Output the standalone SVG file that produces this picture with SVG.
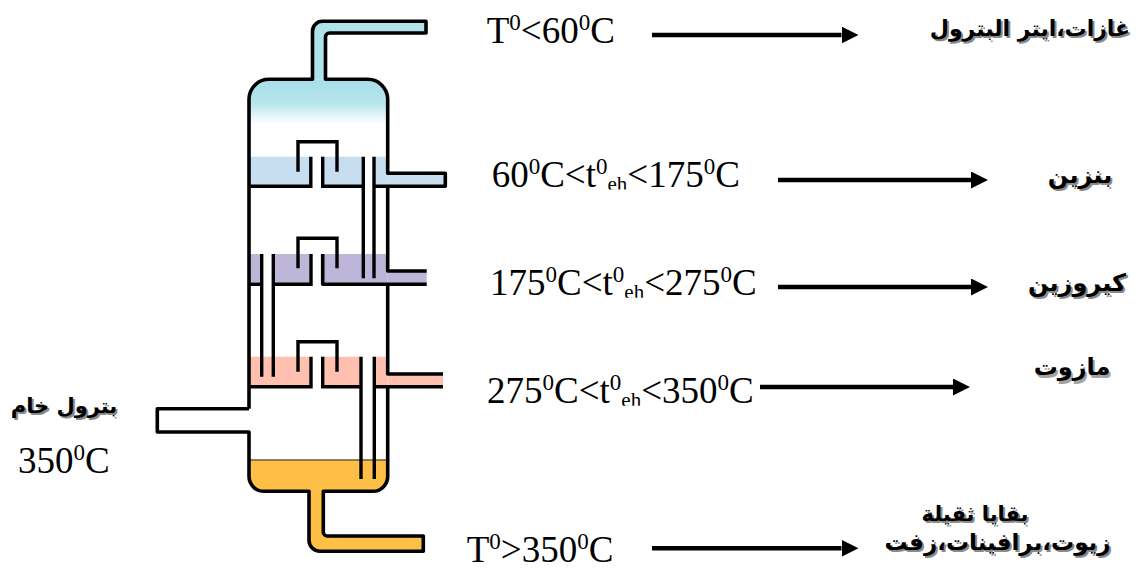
<svg xmlns="http://www.w3.org/2000/svg" width="1138" height="569" viewBox="0 0 1138 569">
  <style>
    .wall { fill: none; stroke: #000; stroke-width: 3.6; stroke-linejoin: round; }
    .inner { fill: none; stroke: #000; stroke-width: 3.4; }
    .blue { fill: #C7DDF0; }
    .violet { fill: #BDB6D8; }
    .pink { fill: #FFC0B0; }
    .oil { fill: #FFBE46; }
    .num { font-family: "Liberation Serif", "Times New Roman", serif; font-size: 37px; fill: #000; }
    .sup { font-size: 23px; }
    .sub { font-size: 21px; }
    .ar { font-family: "DejaVu Sans", "Noto Sans", sans-serif; font-weight: bold; font-size: 24px; text-anchor: middle; }
    .s21 { font-size: 21px; }
    .s22 { font-size: 22px; }
    .s23 { font-size: 23px; }
    .shadow { fill: #8a8a8a; }
    .ink { fill: #000; }
    .arrow { stroke: #000; stroke-width: 4.5; fill: none; }
  </style>
  <defs>
    <linearGradient id="vapour" x1="0" y1="79" x2="0" y2="124" gradientUnits="userSpaceOnUse">
      <stop offset="0" stop-color="#A5DEE8"/>
      <stop offset="0.55" stop-color="#B8E6ED"/>
      <stop offset="1" stop-color="#FFFFFF"/>
    </linearGradient>
    <marker id="head" viewBox="0 0 17 17" refX="0" refY="8.5" markerWidth="17" markerHeight="17" markerUnits="userSpaceOnUse" orient="auto">
      <path d="M0,0 L17,8.5 L0,17 Z" fill="#000"/>
    </marker>
    <clipPath id="cut2"><rect x="480" y="140" width="300" height="49.5"/></clipPath>
    <clipPath id="cut3"><rect x="480" y="250" width="300" height="47.8"/></clipPath>
    <clipPath id="cut4"><rect x="470" y="355" width="300" height="50.8"/></clipPath>
  </defs>

  <rect width="1138" height="569" fill="#fff"/>

  <!-- distillation column -->
  <g id="column">
    <!-- vapour in the dome and the overhead pipe -->
    <path d="M312.5,79.3 L312.5,31.3 A10,10 0 0 1 322.5,21.3 L426,21.3 L426,33 L329.5,33 A4,4 0 0 0 325.5,37 L325.5,79.3 Z" fill="#B0E2EA"/>
    <path d="M249,99.3 A20,20 0 0 1 269,79.3 L367.7,79.3 A20,20 0 0 1 387.7,99.3 L387.7,126 L249,126 Z" fill="url(#vapour)"/>

    <!-- tray 1 -->
    <rect class="blue" x="249" y="156.7" width="61.8" height="29.6"/>
    <rect class="blue" x="322.7" y="156.7" width="40.6" height="29.6"/>
    <rect class="blue" x="374" y="156.7" width="13.7" height="29.6"/>
    <rect class="blue" x="387.7" y="173.3" width="57.6" height="13"/>
    <!-- tray 2 -->
    <rect class="violet" x="249" y="254" width="12.7" height="30.3"/>
    <rect class="violet" x="273.3" y="254" width="37.7" height="30.3"/>
    <rect class="violet" x="322.7" y="254" width="65" height="30.3"/>
    <rect class="violet" x="387.7" y="271" width="39" height="13.3"/>
    <!-- tray 3 -->
    <rect class="pink" x="249" y="356.7" width="62" height="30"/>
    <rect class="pink" x="322.7" y="356.7" width="38.3" height="30"/>
    <rect class="pink" x="374.3" y="356.7" width="13.4" height="30"/>
    <rect class="pink" x="387.7" y="374" width="55.3" height="12.7"/>

    <!-- residue at the bottom and the bottom pipe -->
    <path class="oil" d="M249,460 L387.7,460 L387.7,476.3 A15,15 0 0 1 372.7,491.3 L323.3,491.3 L323.3,532 A4,4 0 0 0 327.3,536 L423.3,536 L423.3,551.3 L320,551.3 A11,11 0 0 1 309,540.3 L309,491.3 L264,491.3 A15,15 0 0 1 249,476.3 Z"/>
    <line x1="249" y1="460" x2="387.7" y2="460" stroke="#6B5A3E" stroke-width="1.6"/>

    <!-- shell, dome and pipes -->
    <path class="wall" d="M249,408.7 L249,99.3 A20,20 0 0 1 269,79.3 L312.5,79.3 L312.5,31.3 A10,10 0 0 1 322.5,21.3 L426,21.3 L426,33 L329.5,33 A4,4 0 0 0 325.5,37 L325.5,79.3 L367.7,79.3 A20,20 0 0 1 387.7,99.3 L387.7,173.3 L445.3,173.3 L445.3,186.3 L374,186.3"/>
    <path class="wall" d="M387.7,186.3 L387.7,271 L426.7,271"/>
    <path class="wall" d="M426.7,284.3 L322.7,284.3 L322.7,254"/>
    <path class="wall" d="M387.7,284.3 L387.7,374 L443,374"/>
    <path class="wall" d="M443,386.7 L374.3,386.7"/>
    <path class="wall" d="M387.7,386.7 L387.7,476.3 A15,15 0 0 1 372.7,491.3 L323.3,491.3 L323.3,532 A4,4 0 0 0 327.3,536 L423.3,536 L423.3,551.3 L320,551.3 A11,11 0 0 1 309,540.3 L309,491.3 L264,491.3 A15,15 0 0 1 249,476.3 L249,432 L157.3,432 L157.3,408.7 L249,408.7"/>

    <!-- tray bottoms and downcomers -->
    <path class="inner" d="M249,186.3 L310.8,186.3 L310.8,156.7"/>
    <path class="inner" d="M322.7,156.7 L322.7,186.3 L363.3,186.3"/>
    <path class="inner" d="M363.3,156.7 L363.3,278.3 M374,156.7 L374,278.3"/>
    <path class="inner" d="M249,284.3 L261.7,284.3"/>
    <path class="inner" d="M261.7,254 L261.7,376.7 M273.3,254 L273.3,376.7"/>
    <path class="inner" d="M273.3,284.3 L311,284.3 L311,254"/>
    <path class="inner" d="M249,386.7 L311,386.7 L311,356.7"/>
    <path class="inner" d="M322.7,356.7 L322.7,386.7 L361,386.7"/>
    <path class="inner" d="M361,356.7 L361,479 M374.3,356.7 L374.3,479"/>

    <!-- bubble caps -->
    <path class="inner" d="M298,171.7 L298,141.7 L337,141.7 L337,171.7"/>
    <path class="inner" d="M298,268.3 L298,238.3 L337,238.3 L337,268.3"/>
    <path class="inner" d="M298,371.7 L298,341.7 L337,341.7 L337,371.7"/>
  </g>

  <!-- feed -->
  <g id="feed">
    <text class="ar s21 shadow" x="66" y="415">بترول خام</text>
    <text class="ar s21 ink" x="64" y="413">بترول خام</text>
    <text class="num" x="18" y="473.3">350<tspan class="sup" dy="-13">0</tspan><tspan dy="13">C</tspan></text>
  </g>

  <!-- cut temperatures -->
  <g id="temp-gas">
    <text class="num" x="486.7" y="43.3">T<tspan class="sup" dy="-13">0</tspan><tspan dy="13">&lt;60</tspan><tspan class="sup" dy="-13">0</tspan><tspan dy="13">C</tspan></text>
  </g>
  <g id="temp-petrol">
    <text class="num" x="491.7" y="186.7" clip-path="url(#cut2)">60<tspan class="sup" dy="-13">0</tspan><tspan dy="13">C&lt;t</tspan><tspan class="sup" dy="-13">0</tspan><tspan class="sub" dy="17">eh</tspan><tspan dy="-4">&lt;175</tspan><tspan class="sup" dy="-13">0</tspan><tspan dy="13">C</tspan></text>
  </g>
  <g id="temp-kerosene">
    <text class="num" x="490" y="295" clip-path="url(#cut3)">175<tspan class="sup" dy="-13">0</tspan><tspan dy="13">C&lt;t</tspan><tspan class="sup" dy="-13">0</tspan><tspan class="sub" dy="17">eh</tspan><tspan dy="-4">&lt;275</tspan><tspan class="sup" dy="-13">0</tspan><tspan dy="13">C</tspan></text>
  </g>
  <g id="temp-fueloil">
    <text class="num" x="487" y="403" clip-path="url(#cut4)">275<tspan class="sup" dy="-13">0</tspan><tspan dy="13">C&lt;t</tspan><tspan class="sup" dy="-13">0</tspan><tspan class="sub" dy="17">eh</tspan><tspan dy="-4">&lt;350</tspan><tspan class="sup" dy="-13">0</tspan><tspan dy="13">C</tspan></text>
  </g>
  <g id="temp-residue">
    <text class="num" x="466.7" y="562">T<tspan class="sup" dy="-13">0</tspan><tspan dy="13">&gt;350</tspan><tspan class="sup" dy="-13">0</tspan><tspan dy="13">C</tspan></text>
  </g>

  <!-- products -->
  <g id="product-gas">
    <text class="ar s22 shadow" x="1032" y="38">غازات،ايتر البترول</text>
    <text class="ar s22 ink" x="1030" y="36">غازات،ايتر البترول</text>
  </g>
  <g id="product-petrol">
    <text class="ar shadow" x="1082" y="185">بنزين</text>
    <text class="ar ink" x="1080" y="183">بنزين</text>
  </g>
  <g id="product-kerosene">
    <text class="ar shadow" x="1079" y="293">كيروزين</text>
    <text class="ar ink" x="1077" y="291">كيروزين</text>
  </g>
  <g id="product-fueloil">
    <text class="ar shadow" x="1074" y="378" fill-opacity="0.8">مازوت</text>
    <text class="ar ink" x="1072" y="375">مازوت</text>
  </g>
  <g id="product-residue">
    <text class="ar s21 shadow" x="977" y="523">بقايا ثقيلة</text>
    <text class="ar s21 ink" x="975" y="521">بقايا ثقيلة</text>
    <text class="ar s23 shadow" x="999.5" y="552">زيوت،برافينات،زفت</text>
    <text class="ar s23 ink" x="997.5" y="550">زيوت،برافينات،زفت</text>
  </g>

  <!-- connectors -->
  <g id="connectors">
    <line class="arrow" x1="652" y1="35" x2="841.5" y2="35" marker-end="url(#head)"/>
    <line class="arrow" x1="778" y1="180" x2="971" y2="180" marker-end="url(#head)"/>
    <line class="arrow" x1="778" y1="287" x2="971" y2="287" marker-end="url(#head)"/>
    <line class="arrow" x1="760" y1="387" x2="953" y2="387" marker-end="url(#head)"/>
    <line class="arrow" x1="652" y1="548.3" x2="841.5" y2="548.3" marker-end="url(#head)"/>
  </g>
</svg>
